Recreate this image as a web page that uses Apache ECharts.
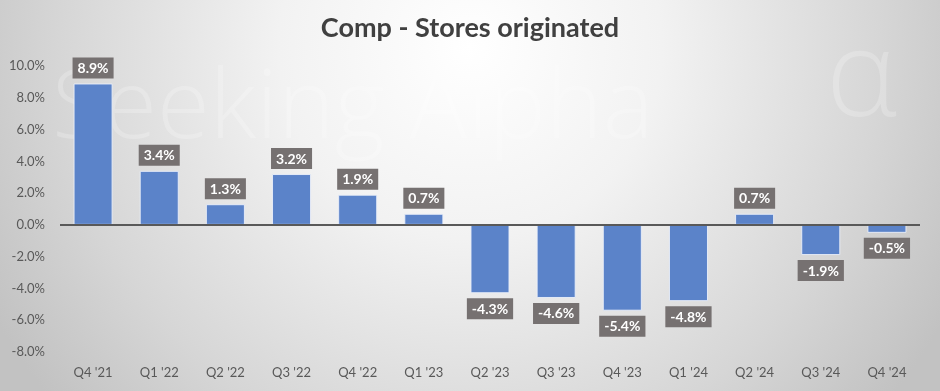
<!DOCTYPE html>
<html><head><meta charset="utf-8">
<script src="https://cdn.jsdelivr.net/npm/echarts@6/dist/echarts.min.js"></script>
<style>html,body{margin:0;padding:0;}#c{width:940px;height:391px;}</style>
</head><body><div id="c"></div>
<script>
const categories = ["Q4 '21","Q1 '22","Q2 '22","Q3 '22","Q4 '22","Q1 '23","Q2 '23","Q3 '23","Q4 '23","Q1 '24","Q2 '24","Q3 '24","Q4 '24"];
const values = [8.9, 3.4, 1.3, 3.2, 1.9, 0.7, -4.3, -4.6, -5.4, -4.8, 0.7, -1.9, -0.5];
const yMin = -8, yMax = 10, yStep = 2;
const titleText = "Comp - Stores originated";
const watermark = "Seeking Alpha";

const chart = echarts.init(document.getElementById('c'));
chart.setOption({
  backgroundColor: {
    type: 'radial', x: 0.5, y: 0.12, r: 1.4,
    colorStops: [{offset: 0, color: '#ffffff'}, {offset: 0.35, color: '#f2f2f2'}, {offset: 0.75, color: '#d6d6d6'}, {offset: 1, color: '#c2c2c2'}]
  },
  title: {
    text: titleText, left: 'center', top: 10,
    textStyle: {fontFamily: 'Lato', fontWeight: 'bold', fontSize: 27, color: '#404040'}
  },
  graphic: [{
    type: 'text', left: 52, top: 63, z: 0, silent: true,
    style: {text: watermark, font: '300 96px "Open Sans"', fill: 'rgba(255,255,255,0.22)'}
  }, {
    type: 'text', left: 826, top: 22, z: 0, silent: true,
    style: {text: 'α', font: '300 120px "Open Sans"', fill: 'rgba(255,255,255,0.22)'}
  }],
  grid: {left: 60, right: 20, top: 66, bottom: 39},
  xAxis: {
    type: 'category', data: categories,
    axisLine: {show: false, onZero: false},
    axisTick: {show: false},
    axisLabel: {color: '#595959', fontFamily: 'Lato', fontSize: 13, margin: 14}
  },
  yAxis: {
    type: 'value', min: yMin, max: yMax, interval: yStep,
    splitLine: {show: false},
    axisLine: {show: false}, axisTick: {show: false},
    axisLabel: {color: '#595959', fontFamily: 'Lato', fontSize: 13, margin: 15,
      formatter: v => v.toFixed(1) + '%'}
  },
  series: [{
    type: 'bar', barWidth: '59%', z: 3,
    itemStyle: {color: '#5b83c9', borderColor: 'rgba(235,240,250,0.9)', borderWidth: 1},
    data: values.map(v => ({
      value: v,
      label: {position: v >= 0 ? 'top' : 'bottom'}
    })),
    label: {
      show: true, distance: 5,
      formatter: p => p.value.toFixed(1) + '%',
      backgroundColor: '#767171', color: '#ffffff',
      fontFamily: 'Lato', fontWeight: 'bold', fontSize: 14,
      padding: [4, 5, 3, 5]
    },
    markLine: {
      silent: true, symbol: 'none', z: 4,
      label: {show: false},
      lineStyle: {color: '#595959', width: 2, type: 'solid'},
      data: [{yAxis: 0}]
    }
  }]
});
</script>
</body></html>
